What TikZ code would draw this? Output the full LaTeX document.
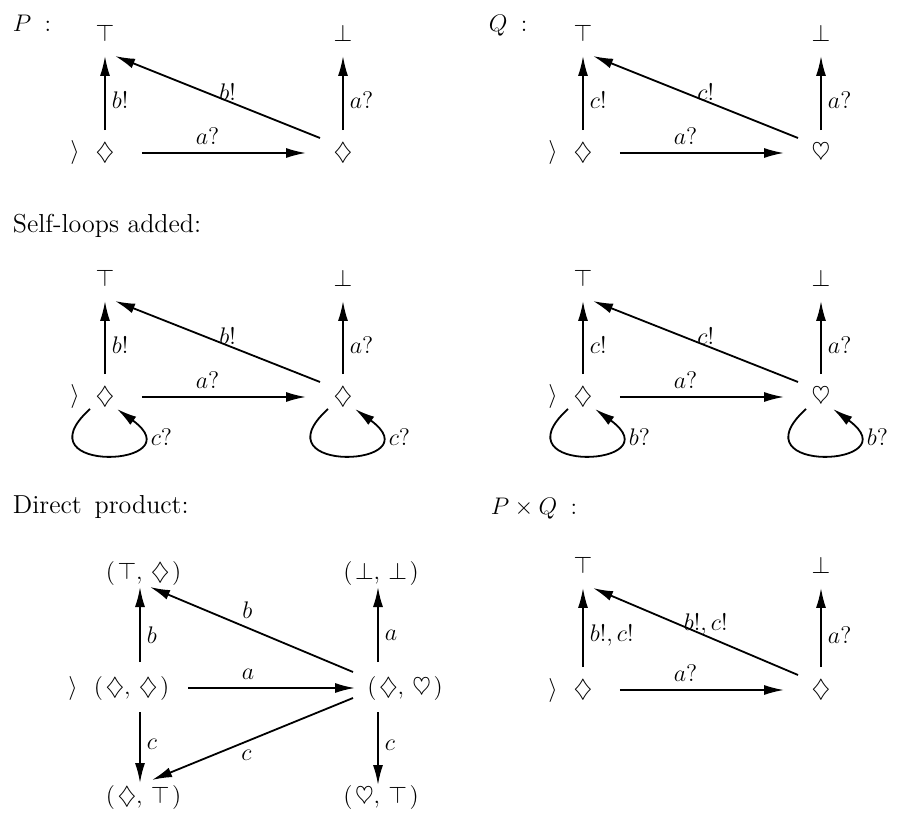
\documentclass[tikz,border=0pt]{standalone}
\usetikzlibrary{arrows.meta}

\tikzset{
  st/.style={inner sep=0pt, minimum width=36pt, minimum height=22pt},
  lbl/.style={inner sep=3pt},
  ttl/.style={anchor=base west, inner sep=0pt},
  selfloop/.style={to path={([shift={(-15,12)}]\tikztostart.center)
      .. controls ([shift={(-88,78)}]\tikztostart.center)
      and ([shift={(92,70)}]\tikztostart.center)
      .. ([shift={(12,12)}]\tikztostart.center) \tikztonodes}},
}
\newcommand{\pr}[2]{$(\mkern2mu#1,\,#2\mkern2mu)$}

\begin{document}
\begin{tikzpicture}[x=0.5pt,y=-0.5pt,>={Latex[length=10pt,width=5pt]},
  line width=0.9pt,every node/.style={font=\fontsize{13}{15}\selectfont}]
  \useasboundingbox (0,0) rectangle (898,817);

  % titles
  \node[ttl] (tp) at (12,32) {$P\;:$};
  \node[ttl] (tq) at (488,32) {$Q\;:$};
  \node[ttl] (tself) at (12,233) {Self-loops added:};
  \node[ttl] (tdir) at (12,513) {Direct\,\ product:};
  \node[ttl] (tpq) at (490,514) {$P\times Q\;:$};

  % the five small automata: x, top row y, bottom row y, name, right state, output label
  \foreach \x/\ya/\yb/\n/\s/\l in {105/33/153/p/\diamondsuit/b!, 583/33/153/q/\heartsuit/c!,
      105/278/397/s/\diamondsuit/b!, 583/278/397/r/\heartsuit/c!,
      583/565/690/e/\diamondsuit/{b!,c!}} {
    \node[st] (\n t) at (\x,\ya) {$\top$};
    \node[st] (\n b) at (\x+238,\ya) {$\bot$};
    \node[st] (\n 0) at (\x,\yb) {$\diamondsuit$};
    \node[st] (\n 1) at (\x+238,\yb) {$\s$};
    \node (\n i) at (\x-30,\yb) {$\rangle$};
    \draw[->] (\n 0) -- node[lbl,right,pos=.4] {$\l$} (\n t);
    \draw[->] (\n 0) -- node[above,pos=.4,inner sep=4pt] {$a?$} (\n 1);
    \draw[->] ([shift={(-23,-15)}]\n 1.center) -- node[above,pos=.45,inner sep=0pt] {$\l$} ([shift={(10,23)}]\n t.center);
    \draw[->] (\n 1) -- node[lbl,right,pos=.4] {$a?$} (\n b);
  }

  % self-loops
  \draw[->] (s0) to[selfloop] node[pos=.8,right,inner sep=6pt] {$c?$} (s0);
  \draw[->] (s1) to[selfloop] node[pos=.8,right,inner sep=6pt] {$c?$} (s1);
  \draw[->] (r0) to[selfloop] node[pos=.8,right,inner sep=6pt] {$b?$} (r0);
  \draw[->] (r1) to[selfloop] node[pos=.8,right,inner sep=6pt] {$b?$} (r1);

  % direct product
  \node (d1) at (143.5,573) {\pr{\top}{\diamondsuit}};
  \node (d2) at (381,573) {\pr{\bot}{\bot}};
  \node (d0) at (131.5,688) {\pr{\diamondsuit}{\diamondsuit}};
  \node (di) at (73,688) {$\rangle$};
  \node (d3) at (405,688) {\pr{\diamondsuit}{\heartsuit}};
  \node (d4) at (143.5,797) {\pr{\diamondsuit}{\top}};
  \node (d5) at (381,797) {\pr{\heartsuit}{\top}};
  \draw[->] ([shift={(8.5,-26)}]d0.center) -- node[lbl,right,pos=.36] {$b$} ([shift={(-3.5,14)}]d1.center);
  \draw[->] ([shift={(56.5,0)}]d0.center) -- node[above,pos=.36,inner sep=4pt] {$a$} ([shift={(-50,0)}]d3.center);
  \draw[->] ([shift={(-52,-16)}]d3.center) -- node[above,pos=.52,inner sep=4pt] {$b$} ([shift={(6.5,14)}]d1.center);
  \draw[->] ([shift={(-52,10)}]d3.center) -- node[below,pos=.53,inner sep=4pt] {$c$} ([shift={(8.5,-17)}]d4.center);
  \draw[->] ([shift={(8.5,24)}]d0.center) -- node[lbl,right,pos=.46] {$c$} ([shift={(-3.5,-14)}]d4.center);
  \draw[->] ([shift={(-27,-26)}]d3.center) -- node[lbl,right,pos=.36] {$a$} ([shift={(-3,14)}]d2.center);
  \draw[->] ([shift={(-27,24)}]d3.center) -- node[lbl,right,pos=.46] {$c$} ([shift={(-3,-12)}]d5.center);
\end{tikzpicture}
\end{document}
